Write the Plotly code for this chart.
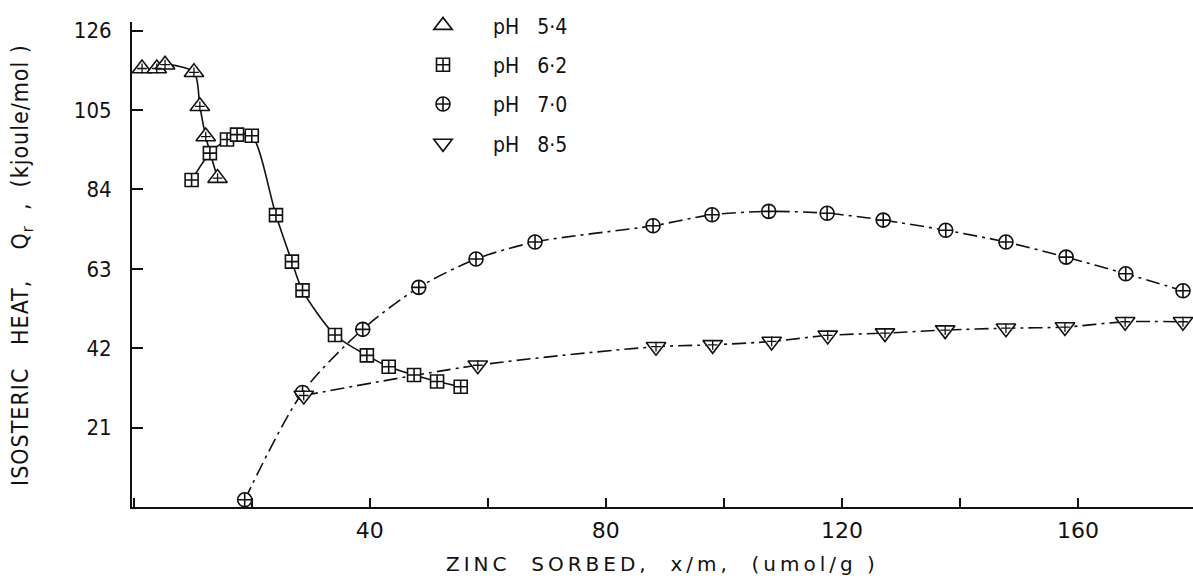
import plotly.graph_objects as go

# ---- data ----
x54 = [1.4, 3.9, 5.3, 10.2, 11.2, 12.2, 14.2]
y54 = [116, 116, 117, 115, 106, 98, 87]

x62 = [9.8, 12.9, 15.8, 17.5, 20.0, 24.1, 26.8, 28.6, 34.1, 39.5, 43.2, 47.5, 51.4, 55.4]
y62 = [86.5, 93.6, 97.2, 98.5, 98.2, 77.2, 64.9, 57.3, 45.5, 40.1, 37.1, 34.9, 33.2, 31.8]

x70 = [18.8, 28.6, 38.8, 48.3, 58.0, 68.0, 88.0, 98.0, 107.6, 117.5, 127.0, 137.6, 147.8, 158.0, 168.1, 177.8]
y70 = [1.9, 30.3, 47.0, 58.1, 65.6, 70.1, 74.4, 77.3, 78.2, 77.7, 75.9, 73.2, 70.1, 66.1, 61.7, 57.2]

x85 = [28.8, 58.3, 88.5, 98.1, 108.1, 117.6, 127.3, 137.5, 147.8, 157.8, 168.0, 177.8]
y85 = [29.5, 37.5, 42.4, 42.9, 43.8, 45.4, 46.0, 46.8, 47.3, 47.6, 49.0, 49.0]

SP = "\u00a0"
series_names = ["pH" + SP * 3 + "5·4", "pH" + SP * 3 + "6·2",
                "pH" + SP * 3 + "7·0", "pH" + SP * 3 + "8·5"]
y_tickvals = [21, 42, 63, 84, 105, 126]
x_tickvals = [40, 80, 120, 160]

FONT = "DejaVu Sans Condensed, Liberation Sans Narrow, DejaVu Sans, sans-serif"
WIDE = "DejaVu Sans, sans-serif"
INK = "#111111"

fig = go.Figure()

# connecting curves
dashdot = "14px,5px,3px,5px"
for xs, ys, dash in [(x54, y54, "solid"), (x62, y62, "solid"),
                     (x70, y70, dashdot), (x85, y85, dashdot)]:
    fig.add_trace(go.Scatter(x=xs, y=ys, mode="lines", showlegend=False,
                             line=dict(color=INK, width=1.6, dash=dash,
                                       shape="spline", smoothing=0.8),
                             hoverinfo="skip", cliponaxis=False))

# markers
specs = [
    (x54, y54, "triangle-up", 17, series_names[0], True),
    (x62, y62, "square-cross", 13, series_names[1], False),
    (x70, y70, "circle-cross", 14, series_names[2], False),
    (x85, y85, "triangle-down", 17, series_names[3], True),
]
for i, (xs, ys, sym, size, name, overlay) in enumerate(specs):
    fig.add_trace(go.Scatter(x=xs, y=ys, mode="markers", name=name,
                             legendgroup=f"g{i}",
                             marker=dict(symbol=sym, size=size, color="white",
                                         line=dict(color=INK, width=1.6)),
                             cliponaxis=False))
    if overlay:
        fig.add_trace(go.Scatter(x=xs, y=ys, mode="markers", showlegend=False,
                                 legendgroup=f"g{i}",
                                 marker=dict(symbol="cross-thin", size=7,
                                             line=dict(color=INK, width=1.3)),
                                 hoverinfo="skip", cliponaxis=False))

ytitle = ('<span style="letter-spacing:1px">ISOSTERIC' + SP * 3 + "HEAT," + SP * 4 +
          "Q<sub>r</sub>" + SP * 2 + "," + SP * 2 + "(kjoule/mol" + SP + ")</span>")
xtitle = ('<span style="letter-spacing:4px">ZINC' + SP * 2 + "SORBED," + SP * 2 +
          "x/m," + SP * 2 + "(umol/g" + SP + ")</span>")

fig.update_layout(
    width=1193, height=581,
    margin=dict(l=132, r=0, t=22, b=74),
    paper_bgcolor="white", plot_bgcolor="white",
    font=dict(family=FONT, size=21, color=INK),
    legend=dict(x=(393 - 132) / 1061, y=1.0345, xanchor="left", yanchor="top",
                bgcolor="rgba(0,0,0,0)", font=dict(size=21, family=FONT),
                itemwidth=90, tracegroupgap=9, traceorder="grouped"),
    xaxis=dict(range=[-0.3, 179.5], showgrid=False, zeroline=False,
               showline=True, linecolor=INK, linewidth=2,
               tickmode="array", tickvals=x_tickvals,
               ticks="inside", ticklen=9, tickwidth=1.5, tickcolor=INK,
               minor=dict(tick0=0, dtick=20, ticks="inside", ticklen=9,
                          tickwidth=1.5, tickcolor=INK, showgrid=False),
               ticklabelstandoff=3,
               tickfont=dict(size=22, family=WIDE)),
    yaxis=dict(range=[0, 128.3], showgrid=False, zeroline=False,
               showline=True, linecolor=INK, linewidth=2,
               tickmode="array", tickvals=y_tickvals,
               ticks="inside", ticklen=11, tickwidth=1.5, tickcolor=INK,
               ticklabelstandoff=14,
               tickfont=dict(size=22, family=FONT)),
    annotations=[
        dict(text=xtitle, xref="paper", yref="paper",
             x=0.5, y=-0.1175, xanchor="center", yanchor="middle",
             showarrow=False, font=dict(size=20, family=WIDE)),
        dict(text=ytitle,
             xref="paper", yref="paper", x=-0.1037, y=0.499,
             xanchor="center", yanchor="middle", textangle=-90,
             showarrow=False, font=dict(size=23, family=FONT)),
    ],
)

fig.write_html("out.html",
               config={"displayModeBar": False},
               post_script="document.body.style.margin='0px';"
                           "document.body.style.overflow='hidden';")
